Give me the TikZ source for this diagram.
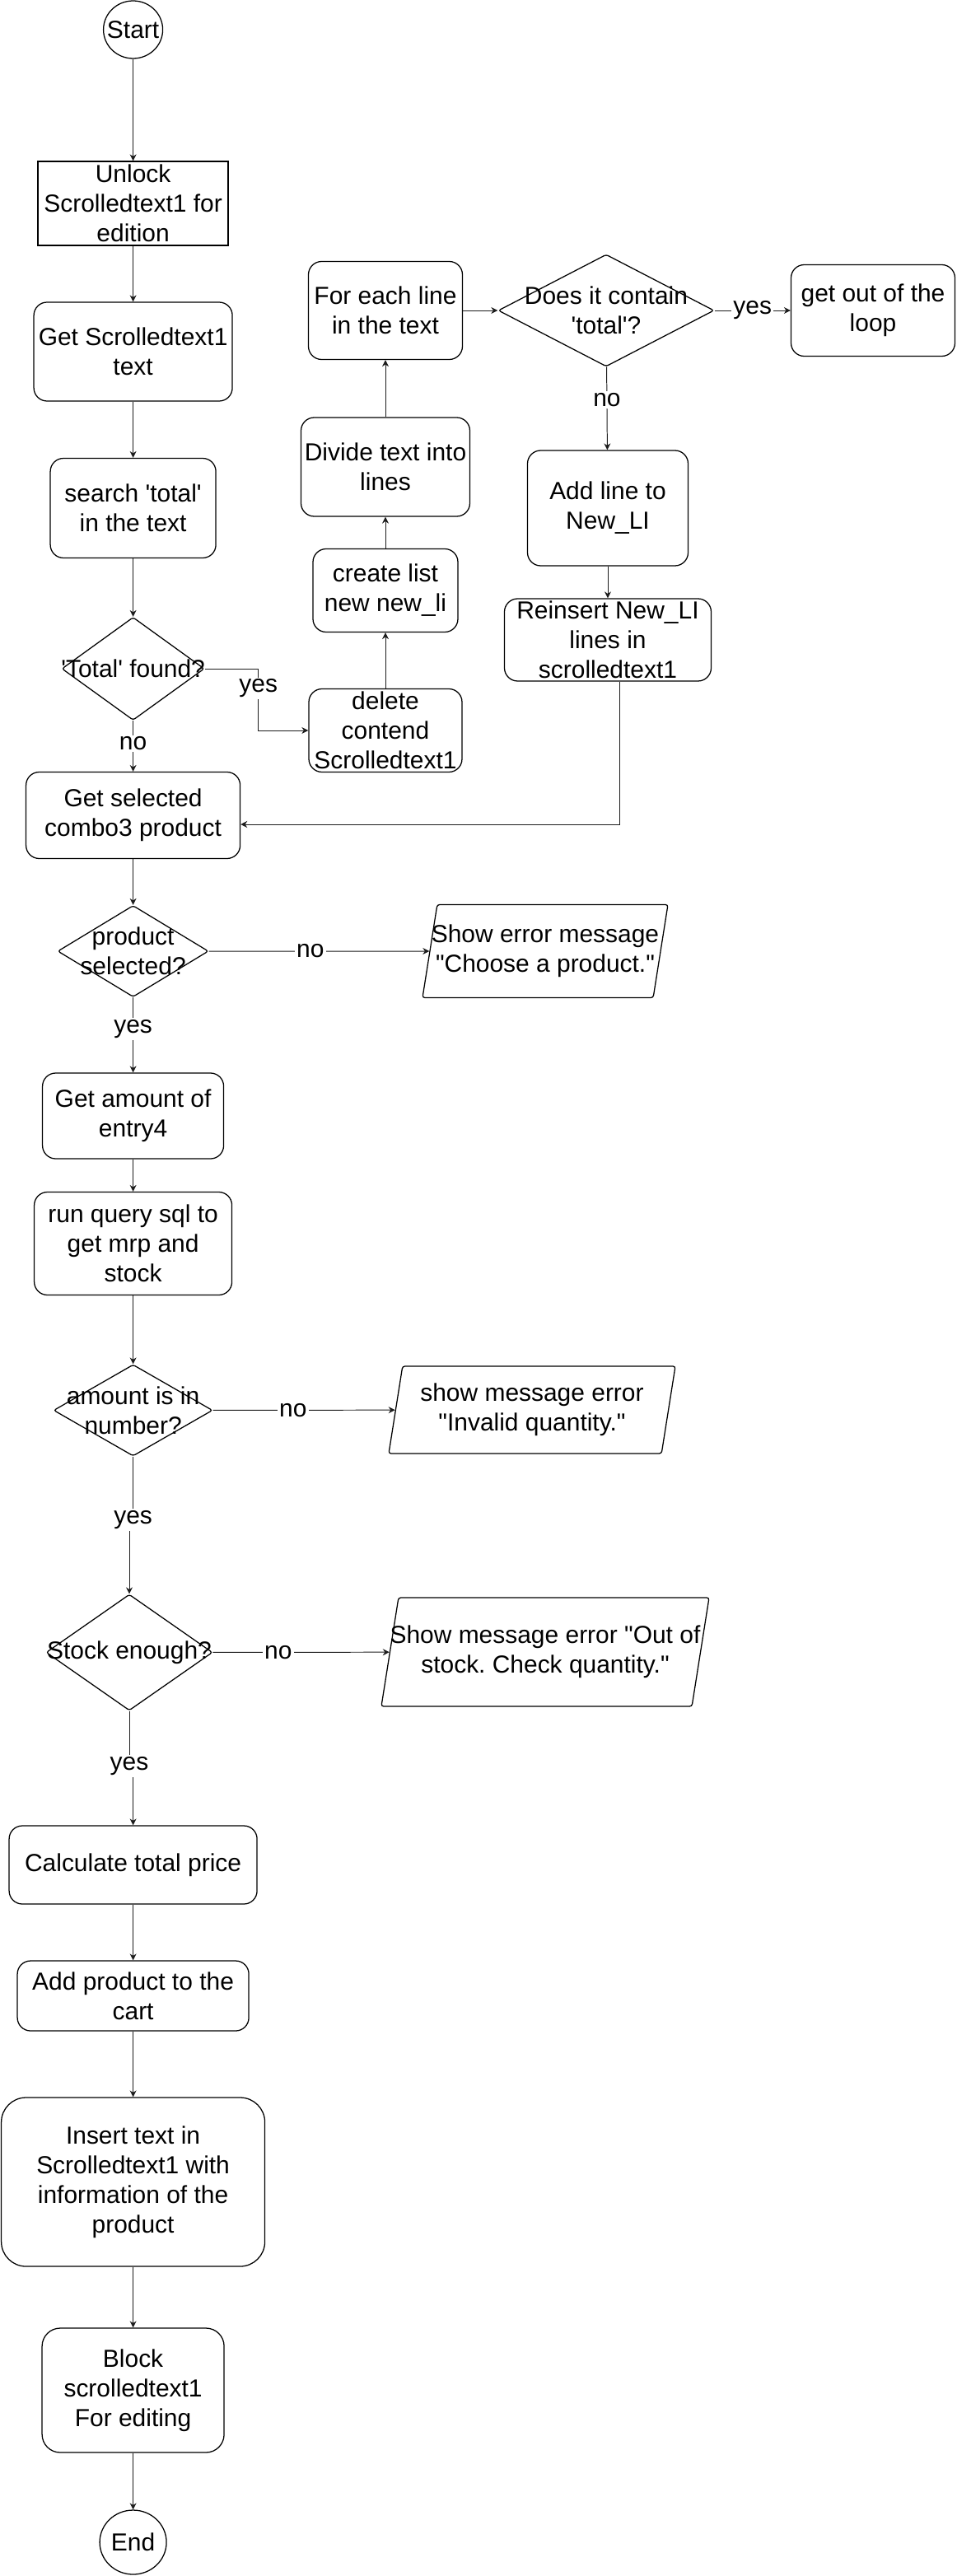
\documentclass[tikz,border=0pt]{standalone}
\usepackage{fontspec}
\usepackage{xcolor}
\usetikzlibrary{arrows.meta,shapes.geometric}
\newfontfamily\chartfont{Liberation Sans}
\definecolor{flowink}{HTML}{000000}
\definecolor{flowline}{HTML}{1C1C1C}
\frenchspacing

\begin{document}
\begin{tikzpicture}[
  font=\chartfont,
  box/.style={draw=flowink, fill=white, text=flowink, line width=0.9pt,
    rounded corners=0.4cm, align=center, inner sep=0pt,
    font=\chartfont\fontsize{21.3}{25.5}\selectfont},
  plainbox/.style={box, sharp corners},
  term/.style={ellipse, draw=flowink, fill=white, line width=0.9pt, inner sep=0pt},
  decision/.style={diamond, draw=flowink, fill=white, line width=0.9pt,
    rounded corners=2pt, inner sep=0pt},
  iobox/.style={trapezium, trapezium left angle=81, trapezium right angle=99,
    trapezium stretches body, draw=flowink, fill=white, line width=0.9pt,
    rounded corners=2pt, inner sep=0pt, text depth=0pt},
  inlbl/.style={align=center, text=flowink, inner sep=0pt,
    font=\chartfont\fontsize{21.3}{25.5}\selectfont},
  flow/.style={draw=flowline, line width=0.7pt, -{Stealth[length=2mm,width=2mm]}},
  lbl/.style={fill=white, text=flowink, inner sep=1.5pt,
    font=\chartfont\fontsize{21.3}{25.5}\selectfont},
]
\useasboundingbox (0,0) rectangle (29.05,-78.2);

% ===== main column =====
\node[term, minimum width=1.8cm, minimum height=1.75cm,
  label={[inlbl]center:Start}] (start) at (4.04,-0.9) {};
\node[plainbox, minimum width=5.775cm, minimum height=2.55cm] (unlock) at (4.04,-6.175)
  {Unlock\\Scrolledtext1 for\\edition};
\node[box, minimum width=6.025cm, minimum height=3.0cm] (gettext) at (4.04,-10.675)
  {Get Scrolledtext1\\text};
\node[box, minimum width=5.025cm, minimum height=3.025cm] (search) at (4.04,-15.425)
  {search 'total'\\in the text};
\node[decision, minimum width=4.325cm, minimum height=3.125cm,
  label={[inlbl]center:{'Total' found?}}] (found) at (4.04,-20.3) {};
\node[box, minimum width=6.5cm, minimum height=2.625cm] (combo) at (4.04,-24.75)
  {Get selected\\combo3 product};
\node[decision, minimum width=4.575cm, minimum height=2.775cm,
  label={[inlbl]center:{product\\selected?}}] (product) at (4.04,-28.875) {};
\node[box, minimum width=5.5cm, minimum height=2.6cm] (amountget) at (4.04,-33.875)
  {Get amount of\\entry4};
\node[box, minimum width=6.0cm, minimum height=3.125cm] (query) at (4.04,-37.75)
  {run query sql to\\get mrp and\\stock};
\node[decision, minimum width=4.825cm, minimum height=2.775cm,
  label={[inlbl]center:{amount is in\\number?}}] (amount) at (4.04,-42.8125) {};
\node[decision, minimum width=5.05cm, minimum height=3.525cm,
  label={[inlbl]center:{Stock enough?}}] (stock) at (3.925,-50.1625) {};
\node[box, minimum width=7.525cm, minimum height=2.375cm] (calc) at (4.04,-56.6125)
  {Calculate total price};
\node[box, minimum width=7.025cm, minimum height=2.125cm] (addcart) at (4.04,-60.5875)
  {Add product to the\\cart};
\node[box, rounded corners=0.75cm, minimum width=8.0cm, minimum height=5.125cm] (insert)
  at (4.04,-66.2375)
  {Insert text in\\Scrolledtext1 with\\information of the\\product};
\node[box, rounded corners=0.55cm, minimum width=5.525cm, minimum height=3.775cm] (block)
  at (4.04,-72.5625) {Block\\scrolledtext1\\For editing};
\node[term, minimum width=2.025cm, minimum height=1.95cm,
  label={[inlbl]center:End}] (end) at (4.04,-77.175) {};

% ===== loop over the lines =====
\node[box, minimum width=4.65cm, minimum height=2.525cm] (delete) at (11.7,-22.175)
  {delete\\contend\\Scrolledtext1};
\node[box, minimum width=4.4cm, minimum height=2.525cm] (createlist) at (11.7,-17.925)
  {create list\\new new\_li};
\node[box, minimum width=5.125cm, minimum height=3.0cm] (divide) at (11.7,-14.175)
  {Divide text into\\lines};
\node[box, minimum width=4.675cm, minimum height=2.975cm] (foreach) at (11.7,-9.425)
  {For each line\\in the text};
\node[decision, minimum width=6.55cm, minimum height=3.4cm,
  label={[inlbl]center:{Does it contain\\'total'?}}] (contain) at (18.4,-9.425) {};
\node[box, minimum width=4.975cm, minimum height=2.775cm] (getout) at (26.5,-9.425)
  {get out of the\\loop};
\node[box, minimum width=4.875cm, minimum height=3.5cm] (addline) at (18.45,-15.425)
  {Add line to\\New\_LI};
\node[box, minimum width=6.275cm, minimum height=2.5cm] (reinsert) at (18.45,-19.425)
  {Reinsert New\_LI\\lines in\\scrolledtext1};

% ===== error messages =====
\node[iobox, minimum width=7.45cm, text height=2.825cm,
  label={[inlbl]center:{Show error message\\"Choose a product."}}] (err1) at (16.55,-28.875) {};
\node[iobox, minimum width=8.7cm, text height=2.65cm,
  label={[inlbl]center:{show message error\\"Invalid quantity."}}] (err2) at (16.15,-42.8) {};
\node[iobox, minimum width=9.95cm, text height=3.3cm,
  label={[inlbl]center:{Show message error "Out of\\stock. Check quantity."}}] (err3) at (16.55,-50.15) {};

% ===== connectors =====
\draw[flow] (start) -- (unlock);
\draw[flow] (unlock) -- (gettext);
\draw[flow] (gettext) -- (search);
\draw[flow] (search) -- (found);
\draw[flow] (found) -- node[lbl, pos=0.45] {no} (combo);
\draw[flow] (found.east) -- ++(1.625,0) |- node[lbl, pos=0.16] {yes} (delete.west);
\draw[flow] (delete) -- (createlist);
\draw[flow] (createlist) -- (divide);
\draw[flow] (divide) -- (foreach);
\draw[flow] (foreach) -- (contain);
\draw[flow] (contain) -- node[lbl] {yes} (getout);
\draw[flow] (contain) -- node[lbl, pos=0.4] {no} (addline);
\draw[flow] (addline) -- (reinsert);
\draw[flow] ([xshift=0.35cm]reinsert.south) |- ([yshift=-0.275cm]combo.east);
\draw[flow] (combo) -- (product);
\draw[flow] (product) -- node[lbl, pos=0.46] {no} (err1);
\draw[flow] (product) -- node[lbl, pos=0.42] {yes} (amountget);
\draw[flow] (amountget) -- (query);
\draw[flow] (query) -- (amount);
\draw[flow] (amount) -- node[lbl, pos=0.44] {no} (err2);
\draw[flow] (amount.south) -- ++(0,-1.925) -| node[lbl, pos=0] {yes} (stock.north);
\draw[flow] (stock) -- node[lbl, pos=0.37] {no} (err3);
\draw[flow] (stock.south) -- ++(0,-1.675) -| node[lbl, pos=0] {yes} (calc.north);
\draw[flow] (calc) -- (addcart);
\draw[flow] (addcart) -- (insert);
\draw[flow] (insert) -- (block);
\draw[flow] (block) -- (end);

\end{tikzpicture}
\end{document}
